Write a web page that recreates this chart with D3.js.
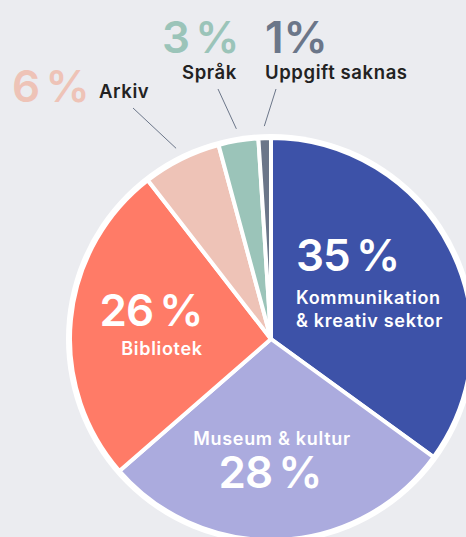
<!DOCTYPE html>
<html>
<head>
<meta charset="utf-8">
<script src="https://cdn.jsdelivr.net/npm/d3@7"></script>
<style>
  html, body { margin: 0; padding: 0; background: #ebecf0; }
  svg { display: block; }
  text { font-family: Inter, "Noto Sans", sans-serif; }
</style>
</head>
<body>
<div id="chart"></div>
<script>
// shares per sector
const categories = ['Kommunikation & kreativ sektor', 'Museum & kultur', 'Bibliotek', 'Arkiv', 'Språk', 'Uppgift saknas'];
const values = [35.0, 28.6, 25.9, 6.3, 3.2, 1.0];
const percentLabels = ['35\u2009%', '28\u2009%', '26\u2009%', '6\u2009%', '3\u2009%', '1%'];
const colors = ['#3d52a8', '#ababde', '#ff7b67', '#eec3b7', '#9bc4b9', '#6b7689'];

const width = 466, height = 537;
const cx = 271, cy = 339, radius = 201;

const svg = d3.select('#chart').append('svg')
  .attr('width', width)
  .attr('height', height);

const pie = d3.pie().sort(null).value(d => d)(values);
const arc = d3.arc().innerRadius(0).outerRadius(radius);

const g = svg.append('g').attr('transform', `translate(${cx},${cy})`);

// white ring around the pie
g.append('circle').attr('r', radius + 4).attr('fill', '#fff');

g.selectAll('path.slice')
  .data(pie)
  .enter()
  .append('path')
  .attr('class', 'slice')
  .attr('d', arc)
  .attr('fill', (d, i) => colors[i])
  .attr('stroke', '#fff')
  .attr('stroke-width', 4)
  .attr('stroke-linejoin', 'round');

// labels inside the big slices
const inside = [
  { i: 0, pct: [296, 271, 'start'], name: [[296, 304], [296, 327]], lines: ['Kommunikation', '& kreativ sektor'], anchor: 'start' },
  { i: 2, pct: [151, 326, 'middle'], name: [[162, 355]], lines: ['Bibliotek'], anchor: 'middle' },
  { i: 1, pct: [270, 488, 'middle'], name: [[272, 445]], lines: ['Museum & kultur'], anchor: 'middle' }
];

inside.forEach(l => {
  svg.append('text')
    .attr('x', l.pct[0]).attr('y', l.pct[1])
    .attr('text-anchor', l.pct[2])
    .attr('fill', '#fff')
    .attr('font-size', 44)
    .attr('font-weight', 600)
    .attr('letter-spacing', -1)
    .text(percentLabels[l.i]);
  l.lines.forEach((t, k) => {
    svg.append('text')
      .attr('x', l.name[k][0]).attr('y', l.name[k][1])
      .attr('text-anchor', l.anchor)
      .attr('fill', '#fff')
      .attr('font-size', 18)
      .attr('font-weight', 600)
      .attr('letter-spacing', 0.7)
      .text(t);
  });
});

// small slices: labels outside with leader lines
const outside = [
  { i: 3, pct: [12, 102], name: [99, 98], end: [133, 108] },
  { i: 4, pct: [162, 53], name: [182, 79], end: [218, 89] },
  { i: 5, pct: [265, 53], name: [265, 79], end: [276, 89] }
];

const leadArc = d3.arc().innerRadius(213).outerRadius(213);

outside.forEach(l => {
  const c = leadArc.centroid(pie[l.i]);
  svg.append('line')
    .attr('x1', cx + c[0]).attr('y1', cy + c[1])
    .attr('x2', l.end[0]).attr('y2', l.end[1])
    .attr('stroke', '#6b7689')
    .attr('stroke-width', 1);
  svg.append('text')
    .attr('x', l.pct[0]).attr('y', l.pct[1])
    .attr('fill', colors[l.i])
    .attr('font-size', 44)
    .attr('font-weight', 600)
    .attr('letter-spacing', l.i === 5 ? 0 : -1)
    .text(percentLabels[l.i]);
  svg.append('text')
    .attr('x', l.name[0]).attr('y', l.name[1])
    .attr('fill', '#222')
    .attr('font-size', 18.5)
    .attr('font-weight', 600)
    .attr('letter-spacing', 0.6)
    .text(categories[l.i]);
});
</script>
</body>
</html>
